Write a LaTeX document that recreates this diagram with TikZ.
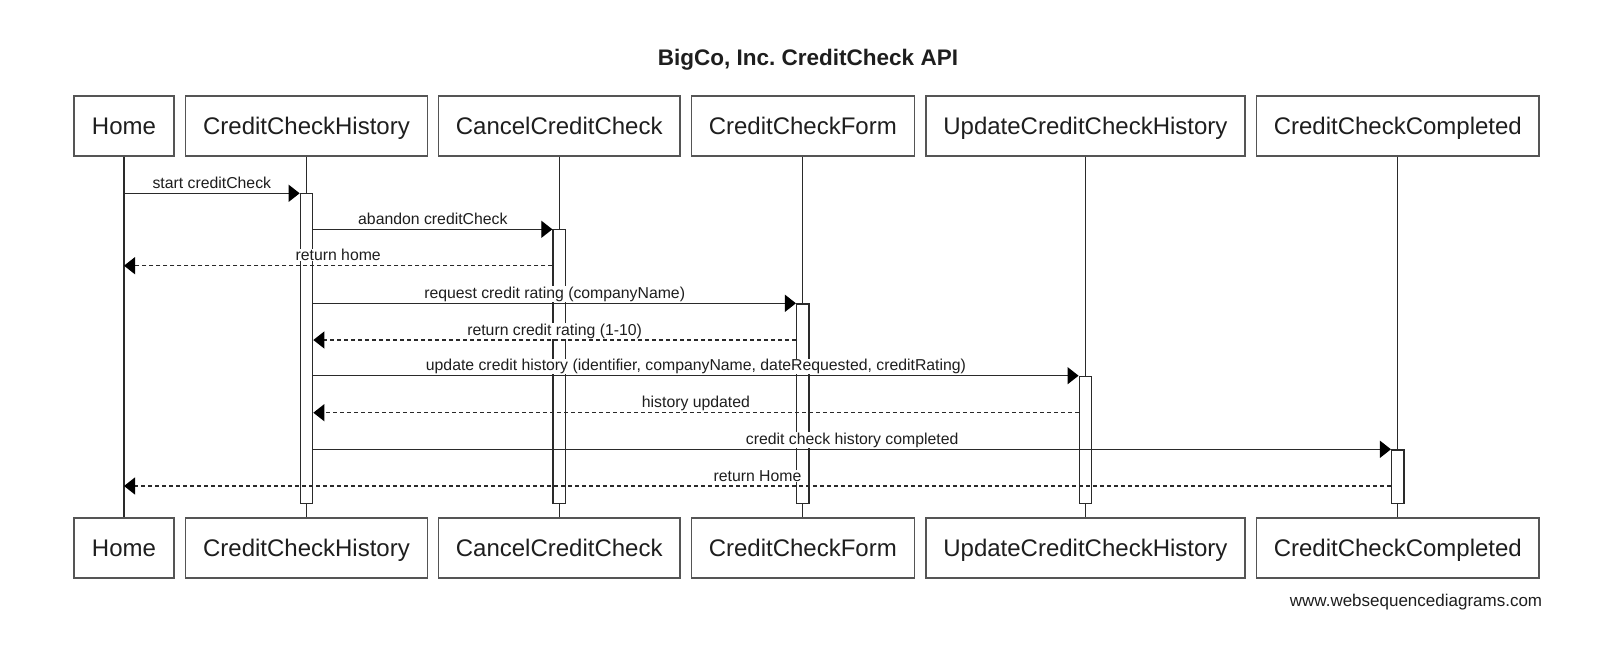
\documentclass[tikz,border=0pt]{standalone}
\usepackage{fontspec}
\setmainfont{Liberation Sans}
\usetikzlibrary{arrows.meta}
\definecolor{ln}{HTML}{2A2A2A}
\definecolor{bx}{HTML}{555555}
\definecolor{tx}{HTML}{1E1E1E}
\frenchspacing
\begin{document}
\begin{tikzpicture}[x=1pt,y=-1pt,
  part/.style={draw=bx, line width=1.3pt, fill=white, minimum height=60pt, inner sep=0pt, text height=17.2pt, text depth=0pt, text=tx, font=\fontsize{24}{28}\selectfont},
  life/.style={draw=ln, line width=1.2pt},
  act/.style={draw=ln, line width=1.2pt, fill=white, minimum width=12.5pt, inner sep=0pt, anchor=north},
  msg/.style={draw=ln, line width=1.2pt, -{Triangle[length=11pt,width=17pt,color=black]}},
  ret/.style={msg, dash pattern=on 4pt off 3pt},
  lbl/.style={fill=white, inner sep=0.5pt, anchor=base, yshift=5pt, text=tx, font=\fontsize{15.8}{18}\selectfont},
]
\fill[white] (0,0) rectangle (1620,647);
\useasboundingbox (0,0) rectangle (1620,647);

\node[font=\bfseries\fontsize{22.5}{27}\selectfont, text=tx, anchor=base] (title) at (808,66) {BigCo, Inc. CreditCheck API};

% participants top
\node[part, minimum width=100pt] (h1) at (124,126) {Home};
\node[part, minimum width=242pt] (c1) at (306.5,126) {CreditCheckHistory};
\node[part, minimum width=241.3pt] (k1) at (559.2,126) {CancelCreditCheck};
\node[part, minimum width=222.8pt] (f1) at (802.8,126) {CreditCheckForm};
\node[part, minimum width=319pt] (u1) at (1085.4,126) {UpdateCreditCheckHistory};
\node[part, minimum width=282.5pt] (d1) at (1397.8,126) {CreditCheckCompleted};
% participants bottom
\node[part, minimum width=100pt] (h2) at (124,548) {Home};
\node[part, minimum width=242pt] (c2) at (306.5,548) {CreditCheckHistory};
\node[part, minimum width=241.3pt] (k2) at (559.2,548) {CancelCreditCheck};
\node[part, minimum width=222.8pt] (f2) at (802.8,548) {CreditCheckForm};
\node[part, minimum width=319pt] (u2) at (1085.4,548) {UpdateCreditCheckHistory};
\node[part, minimum width=282.5pt] (d2) at (1397.8,548) {CreditCheckCompleted};

% lifelines
\draw[life] (h1.south) -- (h2.north);
\draw[life] (c1.south) -- (c2.north);
\draw[life] (k1.south) -- (k2.north);
\draw[life] (f1.south) -- (f2.north);
\draw[life] (u1.south) -- (u2.north);
\draw[life] (d1.south) -- (d2.north);

% message rows
\coordinate (y1) at (0,193.3);
\coordinate (y2) at (0,229.3);
\coordinate (y3) at (0,265.7);
\coordinate (y4) at (0,303.3);
\coordinate (y5) at (0,340);
\coordinate (y6) at (0,375.7);
\coordinate (y7) at (0,412.7);
\coordinate (y8) at (0,449.3);
\coordinate (y9) at (0,486);

% activations
\node[act, minimum height=309.4pt] (a1) at (306.5,193.3) {};
\node[act, minimum height=273.4pt] (a2) at (559.2,229.3) {};
\node[act, minimum height=199.4pt] (a3) at (802.8,303.3) {};
\node[act, minimum height=127pt] (a4) at (1085.4,375.7) {};
\node[act, minimum height=53.4pt] (a5) at (1397.8,449.3) {};

% messages
\draw[msg] (h1.south |- y1) -- node[lbl]{start creditCheck} (a1.west |- y1);
\draw[msg] (a1.east |- y2) -- node[lbl]{abandon creditCheck} (a2.west |- y2);
\draw[ret] (a2.west |- y3) -- node[lbl]{return home} (h1.south |- y3);
\draw[msg] (a1.east |- y4) -- node[lbl]{request credit rating (companyName)} (a3.west |- y4);
\draw[ret] (a3.west |- y5) -- node[lbl]{return credit rating (1-10)} (a1.east |- y5);
\draw[msg] (a1.east |- y6) -- node[lbl]{update credit history (identifier, companyName, dateRequested, creditRating)} (a4.west |- y6);
\draw[ret] (a4.west |- y7) -- node[lbl]{history updated} (a1.east |- y7);
\draw[msg] (a1.east |- y8) -- node[lbl]{credit check history completed} (a5.west |- y8);
\draw[ret] (a5.west |- y9) -- node[lbl]{return Home} (h1.south |- y9);

\node[anchor=base east, text=tx, font=\fontsize{17}{20}\selectfont] (wm) at (1545.7,606.7) {www.websequencediagrams.com};
\end{tikzpicture}
\end{document}
